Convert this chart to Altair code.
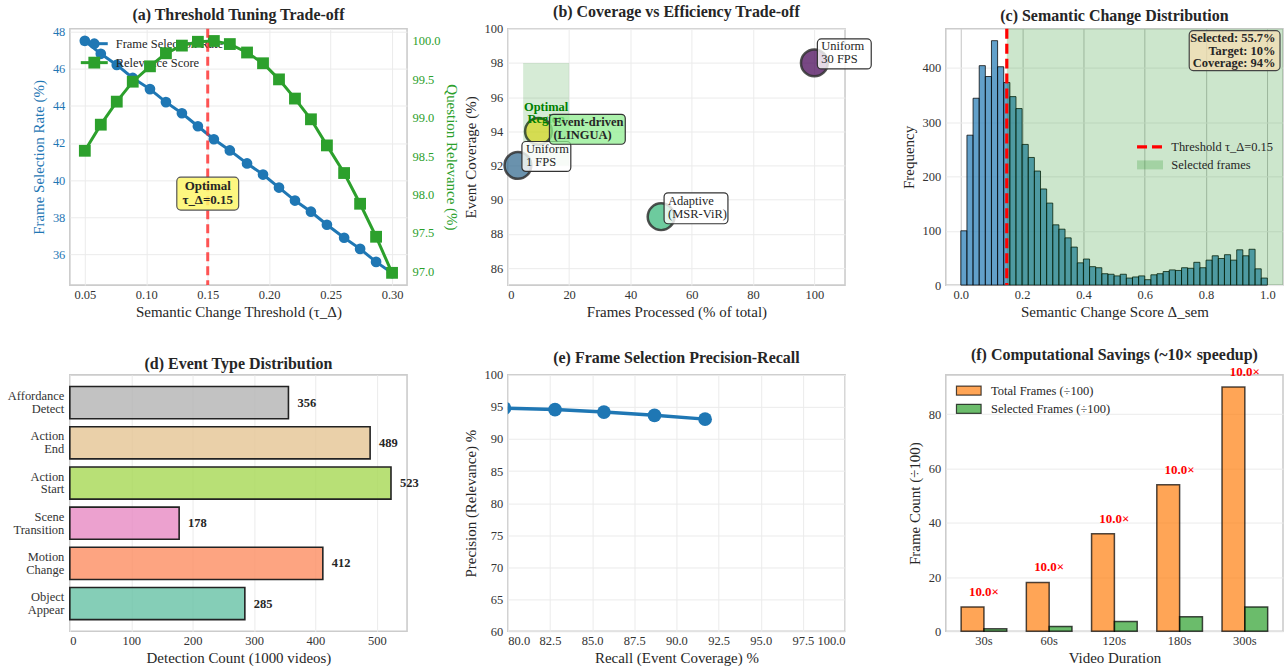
import altair as alt
import pandas as pd

FONT = "Liberation Serif"
W, H = 338, 257
BLUE = "#1f77b4"
GREEN = "#2ca02c"
ORANGE = "#ff7f0e"
GRID_LIGHT = "#ebebeb"
GRID_DARK = "#cdcdcd"
TXT = "#262626"
FS = 12.5

# ---------------- (a) Threshold tuning ----------------
thresholds = [0.050, 0.063, 0.076, 0.089, 0.103, 0.116, 0.129, 0.142, 0.155, 0.168,
              0.182, 0.195, 0.208, 0.221, 0.234, 0.247, 0.261, 0.274, 0.287, 0.300]
selection_rate = [47.5, 46.8, 46.2, 45.5, 44.9, 44.2, 43.6, 42.9, 42.2, 41.6,
                  40.9, 40.3, 39.6, 38.9, 38.3, 37.6, 36.9, 36.3, 35.6, 35.0]
relevance_score = [98.57, 98.91, 99.21, 99.47, 99.67, 99.84, 99.94, 99.99, 100.0, 99.96,
                   99.85, 99.71, 99.50, 99.25, 98.98, 98.64, 98.28, 97.88, 97.45, 96.98]
optimal_threshold = [0.15]
optimal_label = ["Optimal\nτ_Δ=0.15"]
optimal_label_y = [39.3]
legend_a = ["Frame Selection Rate", "Relevance Score"]

# ---------------- (b) Coverage vs efficiency ----------------
methods = ["Uniform\n30 FPS", "Uniform\n1 FPS", "Event-driven\n(LINGUA)", "Adaptive\n(MSR-ViR)"]
frames_processed = [100, 3.3, 10, 50]
event_coverage = [98, 92, 94, 89]
method_colors = ["#440154", "#31688e", "#fde725", "#35b779"]
optimal_region = {"x0": [5], "x1": [20], "y0": [92], "y1": [98]}
optimal_region_label = ["Optimal\nRegion"]
optimal_region_pos = {"x": [12.5], "y": [95.4]}

# ---------------- (c) Semantic change distribution ----------------
hist_counts = [100, 276, 344, 404, 384, 450, 402, 373, 347, 325,
               259, 235, 210, 177, 151, 111, 103, 87, 70, 41,
               48, 34, 32, 21, 20, 17, 20, 13, 15, 17,
               10, 19, 21, 25, 28, 27, 32, 31, 42, 32,
               46, 54, 49, 56, 46, 65, 54, 66, 30, 13]
bin_edges = [round(0.02 * i, 2) for i in range(51)]
stats_text = ["Selected: 55.7%\nTarget: 10%\nCoverage: 94%"]
legend_c = ["Threshold τ_Δ=0.15", "Selected frames"]

# ---------------- (d) Event type distribution ----------------
event_types = ["Object Appear", "Motion Change", "Scene Transition",
               "Action Start", "Action End", "Affordance Detect"]
event_counts = [285, 412, 178, 523, 489, 356]
event_colors = ["#66c2a5", "#fc8d62", "#e78ac3", "#a6d854", "#e5c494", "#b3b3b3"]

# ---------------- (e) Precision-recall ----------------
recall = [79.8, 82.8, 85.7, 88.7, 91.7]
precision = [94.8, 94.6, 94.2, 93.7, 93.1]

# ---------------- (f) Computational savings ----------------
durations = ["30s", "60s", "120s", "180s", "300s"]
total_frames = [9, 18, 36, 54, 90]
selected_frames = [0.9, 1.8, 3.6, 5.4, 9.0]
speedup_labels = ["10.0×", "10.0×", "10.0×", "10.0×", "10.0×"]
series_f = ["Total Frames (÷100)", "Selected Frames (÷100)"]


def one(label):
    return alt.Chart(pd.DataFrame({"label": [label]}))


def ltext(label, x, y, **kw):
    return one(label).mark_text(font=FONT, fontSize=FS, align="left", baseline="middle",
                                color=TXT, **kw).encode(
        x=alt.value(x), y=alt.value(y), text="label:N")


# ======================= Panel (a) =======================
df_a = pd.DataFrame({"thr": thresholds, "sel": selection_rate, "rel": relevance_score})
xa = alt.X("thr:Q", scale=alt.Scale(domain=[0.0378, 0.3122], nice=False, zero=False),
           axis=alt.Axis(values=[0.05, 0.10, 0.15, 0.20, 0.25, 0.30], format=".2f",
                         title="Semantic Change Threshold (τ_Δ)"))
ya_scale = alt.Scale(domain=[34.35, 48.15], nice=False, zero=False)
ya = alt.Y("sel:Q", scale=ya_scale,
           axis=alt.Axis(values=[36, 38, 40, 42, 44, 46, 48], title="Frame Selection Rate (%)",
                         titleColor=BLUE, labelColor=BLUE))
yr = alt.Y("rel:Q", scale=alt.Scale(domain=[96.82, 100.16], nice=False, zero=False),
           axis=alt.Axis(orient="right", values=[97.0, 97.5, 98.0, 98.5, 99.0, 99.5, 100.0],
                         format=".1f", title="Question Relevance (%)", titleColor=GREEN,
                         labelColor=GREEN, gridColor=GRID_DARK, labelPadding=5, titlePadding=3))
base_a = alt.Chart(df_a)
blue_line = base_a.mark_line(color=BLUE, strokeWidth=3).encode(x=xa, y=ya)
blue_pts = base_a.mark_circle(color=BLUE, size=115, opacity=1).encode(x=xa, y=ya)
leg_a = [
    one(legend_a[0]).mark_rule(color=BLUE, strokeWidth=3).encode(x=alt.value(11), x2=alt.value(38), y=alt.value(15)),
    one(legend_a[0]).mark_circle(color=BLUE, size=115, opacity=1).encode(x=alt.value(24.5), y=alt.value(15)),
    ltext(legend_a[0], 46, 15),
    one(legend_a[1]).mark_rule(color=GREEN, strokeWidth=3).encode(x=alt.value(11), x2=alt.value(38), y=alt.value(34)),
    one(legend_a[1]).mark_square(color=GREEN, size=140, opacity=1).encode(x=alt.value(24.5), y=alt.value(34)),
    ltext(legend_a[1], 46, 34),
]
left_grp = alt.layer(blue_line, blue_pts, *leg_a)
base_r = alt.Chart(df_a)
right_grp = alt.layer(
    base_r.mark_line(color=GREEN, strokeWidth=3).encode(x=xa, y=yr),
    base_r.mark_square(color=GREEN, size=140, opacity=1).encode(x=xa, y=yr),
)
df_opt = pd.DataFrame({"thr": optimal_threshold, "sel": optimal_label_y, "label": optimal_label})
red_rule = alt.Chart(df_opt).mark_rule(color="#ff2a2a", strokeWidth=3, strokeDash=[9, 5], opacity=0.8).encode(x=xa)
ya_box = alt.Y("sel:Q", scale=ya_scale, axis=None)
box_grp = alt.layer(
    alt.Chart(df_opt).mark_rect(fill="#fdf66a", fillOpacity=0.85, stroke="#555555", strokeWidth=1.2,
                                cornerRadius=4, xOffset=-31, x2Offset=31, yOffset=-16, y2Offset=17).encode(
        x=xa, x2=alt.X2("thr"), y=ya_box, y2=alt.Y2("sel")),
    alt.Chart(df_opt).mark_text(font=FONT, fontSize=13, fontWeight="bold", lineBreak="\n",
                                lineHeight=14, color=TXT, baseline="middle", dy=-7).encode(
        x=xa, y=ya_box, text="label:N"),
)
panel_a = alt.layer(left_grp, right_grp, red_rule, box_grp).resolve_scale(y="independent").properties(
    width=W, height=H, title="(a) Threshold Tuning Trade-off")

# ======================= Panel (b) =======================
df_b = pd.DataFrame({"method": methods, "frames": frames_processed, "cov": event_coverage})


def xb(field):
    return alt.X(f"{field}:Q", scale=alt.Scale(domain=[0, 110], nice=False, zero=False),
                 axis=alt.Axis(values=[0, 20, 40, 60, 80, 100], title="Frames Processed (% of total)"))


def yb(field):
    return alt.Y(f"{field}:Q", scale=alt.Scale(domain=[85, 100], nice=False, zero=False),
                 axis=alt.Axis(values=[86, 88, 90, 92, 94, 96, 98, 100], title="Event Coverage (%)"))


region = alt.Chart(pd.DataFrame(optimal_region)).mark_rect(color="green", opacity=0.16).encode(
    x=xb("x0"), x2="x1", y=yb("y0"), y2="y1")
region_txt = alt.Chart(pd.DataFrame({"frames": optimal_region_pos["x"], "cov": optimal_region_pos["y"],
                                     "label": optimal_region_label})).mark_text(
    font=FONT, fontSize=FS, fontWeight="bold", color="#008000", lineBreak="\n", lineHeight=12,
    baseline="middle").encode(x=xb("frames"), y=yb("cov"), text="label:N")
bubbles = alt.Chart(df_b).mark_circle(size=720, fillOpacity=0.72, stroke="#333333", strokeWidth=2.5,
                                       strokeOpacity=0.85).encode(
    x=xb("frames"), y=yb("cov"),
    color=alt.Color("method:N", scale=alt.Scale(domain=methods, range=method_colors), legend=None))

# per-label box geometry (pixel offsets from point): box x0,x1,y0,y1, text dx, first-line dy
label_geom = [
    (3, 57, -24, 6, 7, -16.5, "white", "normal"),
    (4, 53, -24, 6, 8, -16.5, "white", "normal"),
    (11, 87, -17, 13, 15, -9, "#90ee90", "bold"),
    (3, 67, -24, 7, 7, -16, "white", "normal"),
]
label_layers = []
for i, (bx0, bx1, by0, by1, tdx, tdy, bg, fw) in enumerate(label_geom):
    sub = alt.Chart(df_b.iloc[[i]])
    label_layers.append(sub.mark_rect(fill=bg, fillOpacity=0.75 if bg != "white" else 0.8,
                                      stroke="#333333", strokeWidth=1.2, cornerRadius=4,
                                      xOffset=bx0, x2Offset=bx1, yOffset=by0, y2Offset=by1).encode(
        x=xb("frames"), x2="frames", y=yb("cov"), y2="cov"))
    label_layers.append(sub.mark_text(font=FONT, fontSize=FS, fontWeight=fw, align="left",
                                      baseline="middle", lineBreak="\n", lineHeight=13, color=TXT,
                                      dx=tdx, dy=tdy).encode(
        x=xb("frames"), y=yb("cov"), text="method:N"))
panel_b = alt.layer(bubbles, region, region_txt, *label_layers).properties(
    width=W, height=H, title="(b) Coverage vs Efficiency Trade-off")

# ======================= Panel (c) =======================
df_c = pd.DataFrame({"lo": bin_edges[:-1], "hi": bin_edges[1:], "count": hist_counts})
xc = alt.X("lo:Q", scale=alt.Scale(domain=[-0.049, 1.051], nice=False, zero=False),
           axis=alt.Axis(values=[0.0, 0.2, 0.4, 0.6, 0.8, 1.0], format=".1f",
                         title="Semantic Change Score Δ_sem", gridColor="#c4c4c4"))
yc = alt.Y("count:Q", scale=alt.Scale(domain=[0, 472], nice=False),
           axis=alt.Axis(values=[0, 100, 200, 300, 400], title="Frequency"))
bars_c = alt.Chart(df_c).mark_rect(color=BLUE, fillOpacity=0.7, stroke="black", strokeOpacity=0.75,
                                   strokeWidth=1).encode(x=xc, x2="hi", y=yc, y2=alt.datum(0))
df_thr = pd.DataFrame({"lo": optimal_threshold})
overlay_c = alt.Chart(df_thr).mark_rect(color="green", opacity=0.2).encode(x=xc, x2=alt.value(W))
thr_rule_c = alt.Chart(df_thr).mark_rule(color="red", strokeWidth=3.2, strokeDash=[10, 5]).encode(x=xc)
leg_c = [
    one(legend_c[0]).mark_rule(color="red", strokeWidth=3.2, strokeDash=[10, 5]).encode(
        x=alt.value(191.7), x2=alt.value(217), y=alt.value(118.4)),
    ltext(legend_c[0], 226, 118.4),
    one(legend_c[1]).mark_rect(color="green", opacity=0.2).encode(
        x=alt.value(191.7), x2=alt.value(217.7), y=alt.value(132), y2=alt.value(141)),
    ltext(legend_c[1], 226, 136.7),
]
stats_box = [
    one(stats_text[0]).mark_rect(fill="#f5deb3", fillOpacity=0.75, stroke="#444444", strokeWidth=1.2,
                                 cornerRadius=4).encode(
        x=alt.value(244), x2=alt.value(335), y=alt.value(2), y2=alt.value(42)),
    one(stats_text[0]).mark_text(font=FONT, fontSize=FS, fontWeight="bold", align="right",
                                 baseline="middle", lineBreak="\n", lineHeight=12.5, color=TXT).encode(
        x=alt.value(330.5), y=alt.value(9.5), text="label:N"),
]
panel_c = alt.layer(bars_c, overlay_c, thr_rule_c, *leg_c, *stats_box).properties(
    width=W, height=H, title="(c) Semantic Change Distribution")

# ======================= Panel (d) =======================
df_d = pd.DataFrame({"event": event_types, "count": event_counts})
order_d = list(reversed(event_types))
yd = alt.Y("event:N", sort=order_d,
           scale=alt.Scale(paddingInner=0.2, paddingOuter=0.29),
           axis=alt.Axis(title=None, labelExpr="split(datum.label, ' ')", labelLineHeight=13,
                         labelOffset=-6.5, gridColor=GRID_DARK, bandPosition=0.5, labelPadding=6))
xd = alt.X("count:Q", scale=alt.Scale(domain=[0, 549.15], nice=False),
           axis=alt.Axis(values=[0, 100, 200, 300, 400, 500], title="Detection Count (1000 videos)"))
bars_d = alt.Chart(df_d).mark_bar(fillOpacity=0.8, stroke="#222222", strokeWidth=1.6).encode(
    x=xd, y=yd,
    color=alt.Color("event:N", scale=alt.Scale(domain=event_types, range=event_colors), legend=None))
labels_d = alt.Chart(df_d).mark_text(font=FONT, fontSize=FS, fontWeight="bold", align="left",
                                     baseline="middle", dx=9, color=TXT).encode(
    x=xd, y=yd, text="count:Q")
panel_d = alt.layer(bars_d, labels_d).properties(width=W, height=H, title="(d) Event Type Distribution")

# ======================= Panel (e) =======================
df_e = pd.DataFrame({"recall": recall, "precision": precision})
xe = alt.X("recall:Q", scale=alt.Scale(domain=[80, 100], nice=False, zero=False),
           axis=alt.Axis(values=[80, 82.5, 85, 87.5, 90, 92.5, 95, 97.5, 100], format=".1f",
                         title="Recall (Event Coverage) %"))
ye = alt.Y("precision:Q", scale=alt.Scale(domain=[60, 100], nice=False, zero=False),
           axis=alt.Axis(values=[60, 65, 70, 75, 80, 85, 90, 95, 100], title="Precision (Relevance) %"))
line_e = alt.Chart(df_e).mark_line(color=BLUE, strokeWidth=3.5, clip=True).encode(x=xe, y=ye)
pts_e = alt.Chart(df_e).mark_circle(color=BLUE, size=190, opacity=1, clip=True).encode(x=xe, y=ye)
panel_e = alt.layer(line_e, pts_e).properties(width=W, height=H, title="(e) Frame Selection Precision-Recall")

# ======================= Panel (f) =======================
df_f = pd.DataFrame({
    "duration": durations * 2,
    "series": [series_f[0]] * len(durations) + [series_f[1]] * len(durations),
    "frames": total_frames + selected_frames,
})
df_f_lab = pd.DataFrame({"duration": durations, "frames": total_frames, "label": speedup_labels})
xf = alt.X("duration:N", sort=durations,
           scale=alt.Scale(paddingInner=0.3, paddingOuter=0.235),
           axis=alt.Axis(title="Video Duration", labelAngle=0, gridColor=GRID_DARK, bandPosition=0.5))
yf = alt.Y("frames:Q", scale=alt.Scale(domain=[0, 94.5], nice=False),
           axis=alt.Axis(values=[0, 20, 40, 60, 80], title="Frame Count (÷100)"))
bars_f = alt.Chart(df_f).mark_bar(fillOpacity=0.7, stroke="black", strokeOpacity=0.7, strokeWidth=1.5).encode(
    x=xf, y=yf,
    xOffset=alt.XOffset("series:N", sort=series_f, scale=alt.Scale(paddingInner=0, paddingOuter=0)),
    color=alt.Color("series:N", scale=alt.Scale(domain=series_f, range=[ORANGE, GREEN]), legend=None))
labels_f = alt.Chart(df_f_lab).mark_text(font=FONT, fontSize=13, fontWeight="bold", color="red",
                                         baseline="middle", dy=-15).encode(x=xf, y=yf, text="label:N")
leg_f = [
    one(series_f[0]).mark_rect(fill=ORANGE, fillOpacity=0.7, stroke="black", strokeOpacity=0.7,
                               strokeWidth=1.2).encode(
        x=alt.value(10.7), x2=alt.value(35.4), y=alt.value(11.2), y2=alt.value(20.2)),
    ltext(series_f[0], 45.4, 15.7),
    one(series_f[1]).mark_rect(fill=GREEN, fillOpacity=0.7, stroke="black", strokeOpacity=0.7,
                               strokeWidth=1.2).encode(
        x=alt.value(10.7), x2=alt.value(35.4), y=alt.value(29.5), y2=alt.value(38.5)),
    ltext(series_f[1], 45.4, 34),
]
panel_f = alt.layer(bars_f, labels_f, *leg_f).properties(
    width=W, height=H, title="(f) Computational Savings (~10× speedup)")

chart = alt.concat(panel_a, panel_b, panel_c, panel_d, panel_e, panel_f, columns=3,
                   spacing={"row": 90, "column": 101}, bounds="flush").resolve_scale(
    color="independent"
).properties(
    padding={"left": 6, "top": 2, "right": 0, "bottom": 0}
).configure(font=FONT).configure_view(
    stroke="#cccccc", strokeWidth=1.6
).configure_axis(
    domain=False, ticks=False, labelFont=FONT, titleFont=FONT, labelFontSize=FS, titleFontSize=15,
    titleFontWeight="normal", labelColor="#333333", titleColor=TXT, gridColor=GRID_LIGHT, gridWidth=1
).configure_axisX(labelPadding=3, titlePadding=4).configure_axisY(labelPadding=5, titlePadding=6).configure_title(
    font=FONT, fontSize=16, fontWeight="bold", color=TXT, offset=3, anchor="middle"
).configure_text(font=FONT)

chart.save("out.html", embed_options={"renderer": "svg", "actions": False})
